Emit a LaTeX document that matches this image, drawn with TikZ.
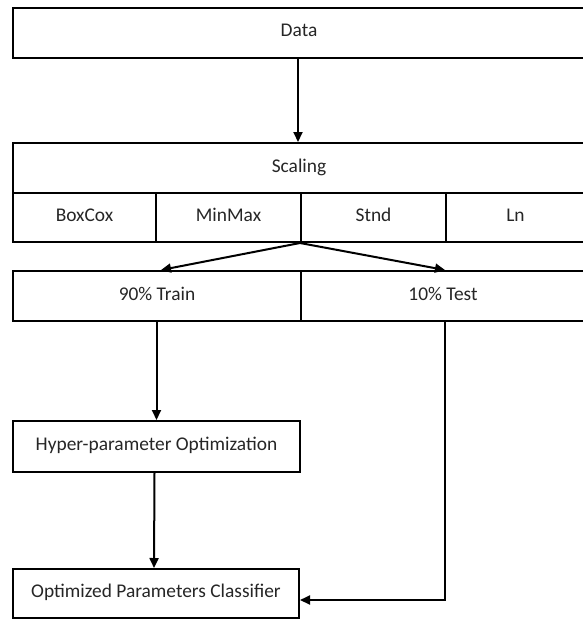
\documentclass[tikz,border=0pt]{standalone}
\usepackage{fontspec}
\setmainfont{Carlito}
\usetikzlibrary{arrows.meta,positioning,calc}

\tikzset{
  box/.style={draw=black, line width=2pt, fill=white, anchor=north west,
    inner sep=0pt, font=\fontsize{19.4}{22}\selectfont, text=black!85},
  flow/.style={line width=2pt, -{Triangle[length=10pt,width=9pt]}},
}
% raise a label a little above the middle of its cell
\newcommand{\cell}[1]{\raisebox{5pt}{#1}}

\begin{document}
\begin{tikzpicture}[x=1pt,y=-1pt]
  \useasboundingbox (0,0) rectangle (582,619);

  % input
  \node[box, minimum width=572pt, minimum height=50pt] (data) at (12,7) {\cell{Data}};

  % scaling block: header plus four methods
  \node[box, minimum width=572pt, minimum height=50pt] (scaling) at (12,142) {\cell{Scaling}};
  \node[box, minimum width=143pt, minimum height=49pt] (boxcox) at (12,192) {\cell{BoxCox}};
  \node[box, minimum width=145pt, minimum height=49pt] (minmax) at (155,192) {\cell{MinMax}};
  \node[box, minimum width=145pt, minimum height=49pt] (stnd) at (300,192) {\cell{Stnd}};
  \node[box, minimum width=139pt, minimum height=49pt] (ln) at (445,192) {\cell{Ln}};

  % split
  \node[box, minimum width=288pt, minimum height=50pt] (train) at (12,270) {\cell{90\% Train}};
  \node[box, minimum width=284pt, minimum height=50pt] (test) at (300,270) {\cell{10\% Test}};

  % model stages
  \node[box, minimum width=287pt, minimum height=51pt] (hyper) at (12,420) {\cell{Hyper-parameter Optimization}};
  \node[box, minimum width=286pt, minimum height=49pt] (opt) at (12,568) {\cell{Optimized Parameters Classifier}};

  \coordinate (fork) at (stnd.south west);

  % connectors
  \draw[flow] (data.south -| scaling.north) ++(-1,0) -- ([xshift=-1pt]scaling.north);
  \draw[flow] (fork) -- ([xshift=4pt]train.north);
  \draw[flow] (fork) -- ([xshift=2pt]test.north);
  \draw[flow] (train.south -| hyper.north) -- (hyper.north);
  \draw[flow] ([xshift=-2pt]hyper.south) -- ([xshift=-2pt]opt.north);
  \draw[flow] ([xshift=2pt]test.south) |- ([yshift=-6.5pt]opt.east);
\end{tikzpicture}
\end{document}
